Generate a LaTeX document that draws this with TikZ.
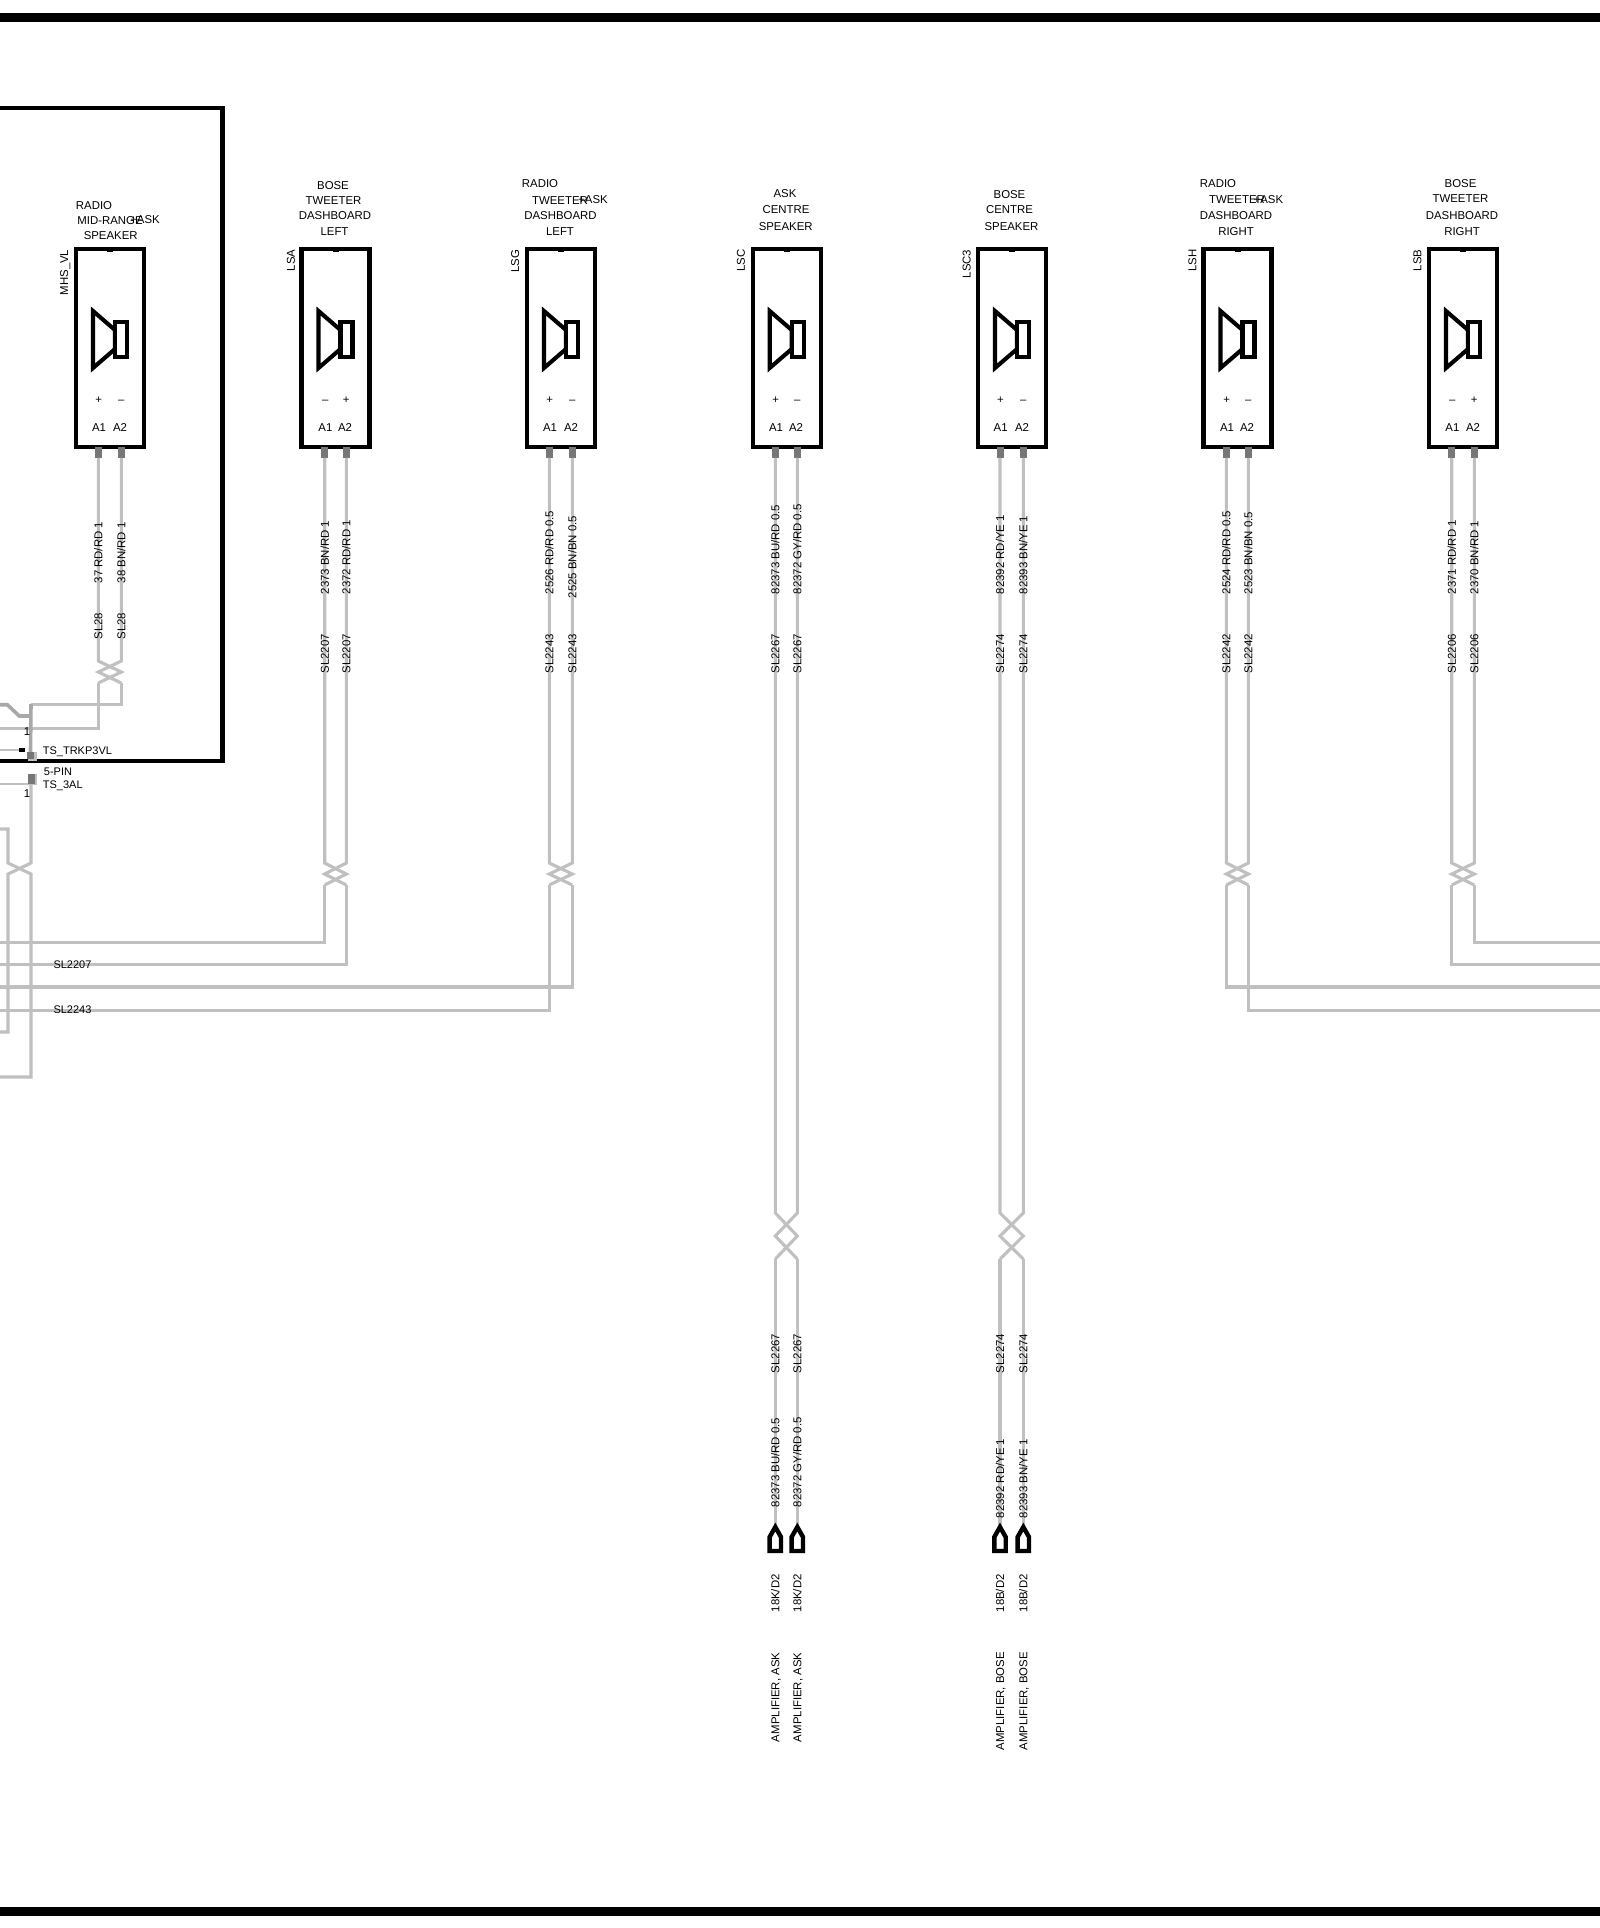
\documentclass[tikz,border=0pt]{standalone}
\usepackage{fontspec}
\setmainfont{Liberation Sans}

\tikzset{
	wire/.style={draw=wirecol, line width=3.1pt, line join=miter},
	thinwire/.style={draw=wirecol, line width=2pt},
	heavywire/.style={draw=heavycol, line width=3.6pt},
	framebar/.style={fill=black},
	speakerbox/.style={draw, line width=4.2pt, minimum width=68pt, minimum height=198pt, inner sep=0pt},
	pinstub/.style={fill=pincol, minimum width=7pt, minimum height=10.5pt, inner sep=0pt},
	symbolline/.style={line width=4.1pt, fill=white},
	housepin/.style={draw, line width=4.4pt, fill=white},
	label/.style={font=\fontsize{11.4}{12}\selectfont, inner sep=0pt, text height=8.2pt, text depth=0pt},
	smalllabel/.style={label, font=\fontsize{11}{12}\selectfont, anchor=west},
	wirelabel/.style={label, rotate=90, anchor=west, xshift=-1.5pt},
	reflabel/.style={label, rotate=90, anchor=east},
}
\definecolor{wirecol}{HTML}{C0C0C0}
\definecolor{heavycol}{HTML}{A8A8A8}
\definecolor{pincol}{HTML}{777777}

\begin{document}
\begin{tikzpicture}[x=1pt, y=-1pt]
	\useasboundingbox (0,0) rectangle (1600,1928);
	\fill[white] (0,0) rectangle (1600,1928);

	% page bars and the module frame
	\fill[framebar] (0,13) rectangle (1600,22);
	\fill[framebar] (0,1907) rectangle (1600,1916);
	\draw[line width=4.3pt, miter limit=10] (0,108) -- (222.5,108) -- (222.5,761) -- (0,761);

	% speakers: box centre, wires, twist, polarity, name, wire-side reference
	\foreach \sid/\bc/\wa/\wb/\ty/\tl/\pa/\pb/\sref/\rx in {
		MHS/110/98.3/121.3/661/11/+/–/MHS\_VL/64,
		LSA/335.5/324.7/346.3/863/11/–/+/LSA/290.7,
		LSG/561/549.3/572.3/863/11/+/–/LSG/515,
		LSC/786.7/775.3/797.3/1213/23/+/–/LSC/740.7,
		LSCiii/1012/1000/1023.3/1213/23/+/–/LSC3/966.5,
		LSH/1237.5/1226.3/1248.3/863/11/+/–/LSH/1192.3,
		LSB/1463/1451.7/1474.3/863/11/–/+/LSB/1417.3}
	{
		\node[speakerbox] (\sid) at (\bc,348) {};
		\fill (\bc-3,246.5) rectangle (\bc+3,251.6);
		\draw[symbolline] (\bc-17,311) -- (\bc+5,330) -- (\bc+5,349) -- (\bc-17,368) -- cycle;
		\draw[symbolline] (\bc+5,322) rectangle (\bc+17,357);
		\node[pinstub] (\sid-A1) at (\wa,452.5) {};
		\node[pinstub] (\sid-A2) at (\wb,452.5) {};
		\node[label] (\sid-pa) at (\wa+0.5,399) {\pa};
		\node[label] (\sid-pb) at (\wb,399) {\pb};
		\node[label] (\sid-la) at (\wa+0.7,427) {A1};
		\node[label] (\sid-lb) at (\wb-1.3,427) {A2};
		\node[reflabel] (\sid-ref) at (\rx,249.5) {\sref};
		% the twisted pair
		\coordinate (\sid-tw1) at (\wa,\ty+\tl+\tl);
		\coordinate (\sid-tw2) at (\wb,\ty+\tl+\tl);
		\draw[wire] (\sid-A1.south) -- (\wa,\ty) -- (\wb,\ty+\tl) -- (\sid-tw1);
		\draw[wire] (\sid-A2.south) -- (\wb,\ty) -- (\wa,\ty+\tl) -- (\sid-tw2);
	}

	% wire ends at the page edges
	\coordinate (edgeA) at (0,942.3);
	\coordinate (edgeB) at (0,964.3);
	\coordinate (edgeC) at (0,987);
	\coordinate (edgeD) at (0,1010.3);
	\coordinate (rimA) at (1600,942.3);
	\coordinate (rimB) at (1600,964.3);
	\coordinate (rimC) at (1600,987);
	\coordinate (rimD) at (1600,1010.3);
	\draw[wire] (LSA-tw1) |- (edgeA);
	\draw[wire] (LSA-tw2) |- (edgeB);
	\draw[wire] (LSG-tw2) |- (edgeC);
	\draw[wire] (LSG-tw1) |- (edgeD);
	\draw[wire] (LSH-tw1) |- (rimC);
	\draw[wire] (LSH-tw2) |- (rimD);
	\draw[wire] (LSB-tw1) |- (rimB);
	\draw[wire] (LSB-tw2) |- (rimA);

	% amplifier contacts
	\coordinate (ampA) at (775.3,1527);
	\coordinate (ampB) at (797.3,1527);
	\coordinate (ampC) at (1000,1527);
	\coordinate (ampD) at (1023.3,1527);
	\draw[wire] (LSC-tw1) -- (ampA);
	\draw[wire] (LSC-tw2) -- (ampB);
	\draw[wire] (LSCiii-tw1) -- (ampC);
	\draw[wire] (LSCiii-tw2) -- (ampD);
	\foreach \c in {ampA,ampB,ampC,ampD}
		\draw[housepin] (\c) -- ++(5.7,10) -- ++(0,14) -- ++(-11.4,0) -- ++(0,-14) -- cycle;

	% the connectors at the left
	\node[fill=wirecol, minimum width=9pt, minimum height=9pt, inner sep=0pt] (trkp) at (32,756) {};
	\node[fill=heavycol!70!black, minimum width=7pt, minimum height=7pt, inner sep=0pt] (trkpcore) at (30.5,755.5) {};
	\node[fill=wirecol, minimum width=9pt, minimum height=11pt, inner sep=0pt] (threeal) at (32.4,779) {};
	\node[fill=pincol, minimum width=7pt, minimum height=10.5pt, inner sep=0pt] (threealcore) at (31.6,779) {};
	\node[fill=black, minimum width=6pt, minimum height=4pt, inner sep=0pt] (trkpblock) at (22.3,750.3) {};
	\coordinate (edgeE) at (0,704.7);
	\coordinate (edgeG) at (0,728.3);
	\coordinate (edgeH) at (0,750.3);
	\coordinate (edgeI) at (0,784.3);
	\coordinate (edgeJ) at (0,829);
	\coordinate (edgeK) at (0,1032);
	\coordinate (edgeL) at (0,1077);
	\coordinate (TSi) at (31,863);
	\coordinate (TSii) at (8,863);
	\draw[wire] (MHS-tw2) |- (31,704.5);
	\draw[wire] (MHS-tw1) |- (edgeG);
	\draw[heavywire] (trkpcore.north) -- (31,704);
	\draw[heavywire] (edgeE) -- (7.3,704.7) -- (19.3,716) -- (31,716);
	\draw[thinwire] (edgeH) -- (trkpblock.west);
	\draw[thinwire] (edgeI) -- (edgeI -| threeal.west);
	\draw[wire] (threeal.south) ++(-1.4,0) -- (TSi) -- (8,874) -- (8,885) |- (edgeK);
	\draw[wire] (edgeJ) -| (TSii) -- (31,874) -- (31,885) |- (edgeL);

	% module labels
	\node[smalllabel] (tstrkp) at (42.7,750) {TS\_TRKP3VL};
	\node[smalllabel] (fivepin) at (43.7,771) {5-PIN};
	\node[smalllabel] (tsal) at (42.7,784.3) {TS\_3AL};
	\node[label] (pinone) at (27,731.5) {1};
	\node[label] (pintwo) at (27,793.7) {1};
	\node[smalllabel] (slA) at (53.3,964) {SL2207};
	\node[smalllabel] (slB) at (53.3,1009) {SL2243};

	% speaker titles
	\node[label] (mhsA) at (94,205) {RADIO};
	\node[label] (mhsB) at (110,220) {MID-RANGE};
	\node[label, anchor=east] (mhsC) at (160,219) {+ASK};
	\node[label] (mhsD) at (110.7,235) {SPEAKER};
	\node[label] (lsaA) at (333,185) {BOSE};
	\node[label] (lsaB) at (333.5,200) {TWEETER};
	\node[label] (lsaC) at (335,215) {DASHBOARD};
	\node[label] (lsaD) at (334.5,231) {LEFT};
	\node[label] (lsgA) at (540,183) {RADIO};
	\node[label] (lsgB) at (560,200) {TWEETER};
	\node[label, anchor=east] (lsgC) at (608,199) {+ASK};
	\node[label] (lsgD) at (560.5,215) {DASHBOARD};
	\node[label] (lsgE) at (560,231) {LEFT};
	\node[label] (lscA) at (785,193) {ASK};
	\node[label] (lscB) at (786,209) {CENTRE};
	\node[label] (lscC) at (785.7,226) {SPEAKER};
	\node[label] (lsiA) at (1009.5,194) {BOSE};
	\node[label] (lsiB) at (1009.5,209) {CENTRE};
	\node[label] (lsiC) at (1011.5,226) {SPEAKER};
	\node[label] (lshA) at (1218,183) {RADIO};
	\node[label] (lshB) at (1237,199) {TWEETER};
	\node[label, anchor=east] (lshC) at (1283.3,199) {+ASK};
	\node[label] (lshD) at (1236,215) {DASHBOARD};
	\node[label] (lshE) at (1236,231) {RIGHT};
	\node[label] (lsbA) at (1460.5,183) {BOSE};
	\node[label] (lsbB) at (1460.5,198) {TWEETER};
	\node[label] (lsbC) at (1462,215) {DASHBOARD};
	\node[label] (lsbD) at (1462,231) {RIGHT};

	% wire labels
	\node[wirelabel] (mhsW1) at (98.3,582) {37 RD/RD 1};
	\node[wirelabel] (mhsW2) at (121.3,582) {38 BN/RD 1};
	\node[wirelabel] (mhsS1) at (98.3,638) {SL28};
	\node[wirelabel] (mhsS2) at (121.3,638) {SL28};
	\node[wirelabel] (lsaW1) at (324.7,593) {2373 BN/RD 1};
	\node[wirelabel] (lsaW2) at (346.3,593) {2372 RD/RD 1};
	\node[wirelabel] (lsaS1) at (324.7,672) {SL2207};
	\node[wirelabel] (lsaS2) at (346.3,672) {SL2207};
	\node[wirelabel] (lsgW1) at (549.3,593) {2526 RD/RD 0.5};
	\node[wirelabel] (lsgW2) at (572.3,597) {2525 BN/BN 0.5};
	\node[wirelabel] (lsgS1) at (549.3,672) {SL2243};
	\node[wirelabel] (lsgS2) at (572.3,672) {SL2243};
	\node[wirelabel] (lscW1) at (775.3,593) {82373 BU/RD 0.5};
	\node[wirelabel] (lscW2) at (797.3,593) {82372 GY/RD 0.5};
	\node[wirelabel] (lscS1) at (775.3,672) {SL2267};
	\node[wirelabel] (lscS2) at (797.3,672) {SL2267};
	\node[wirelabel] (lsiW1) at (1000,593) {82392 RD/YE 1};
	\node[wirelabel] (lsiW2) at (1023.3,593) {82393 BN/YE 1};
	\node[wirelabel] (lsiS1) at (1000,672) {SL2274};
	\node[wirelabel] (lsiS2) at (1023.3,672) {SL2274};
	\node[wirelabel] (lshW1) at (1226.3,593) {2524 RD/RD 0.5};
	\node[wirelabel] (lshW2) at (1248.3,593) {2523 BN/BN 0.5};
	\node[wirelabel] (lshS1) at (1226.3,672) {SL2242};
	\node[wirelabel] (lshS2) at (1248.3,672) {SL2242};
	\node[wirelabel] (lsbW1) at (1451.7,593) {2371 RD/RD 1};
	\node[wirelabel] (lsbW2) at (1474.3,593) {2370 BN/RD 1};
	\node[wirelabel] (lsbS1) at (1451.7,672) {SL2206};
	\node[wirelabel] (lsbS2) at (1474.3,672) {SL2206};

	% the lower ends, towards the amplifier
	\node[wirelabel] (ampS1) at (775.3,1371.7) {SL2267};
	\node[wirelabel] (ampS2) at (797.3,1371.7) {SL2267};
	\node[wirelabel] (ampS3) at (1000,1371.7) {SL2274};
	\node[wirelabel] (ampS4) at (1023.3,1371.7) {SL2274};
	\node[wirelabel] (ampW1) at (775.3,1506) {82373 BU/RD 0.5};
	\node[wirelabel] (ampW2) at (797.3,1506) {82372 GY/RD 0.5};
	\node[wirelabel] (ampW3) at (1000,1516.7) {82392 RD/YE 1};
	\node[wirelabel] (ampW4) at (1023.3,1516.7) {82393 BN/YE 1};
	\node[wirelabel] (ampK1) at (775.3,1611) {18K/D2};
	\node[wirelabel] (ampK2) at (797.3,1611) {18K/D2};
	\node[wirelabel] (ampK3) at (1000,1611) {18B/D2};
	\node[wirelabel] (ampK4) at (1023.3,1611) {18B/D2};
	\node[wirelabel] (ampN1) at (775.3,1740.7) {AMPLIFIER, ASK};
	\node[wirelabel] (ampN2) at (797.3,1740.7) {AMPLIFIER, ASK};
	\node[wirelabel] (ampN3) at (1000,1749) {AMPLIFIER, BOSE};
	\node[wirelabel] (ampN4) at (1023.3,1749) {AMPLIFIER, BOSE};
\end{tikzpicture}
\end{document}
